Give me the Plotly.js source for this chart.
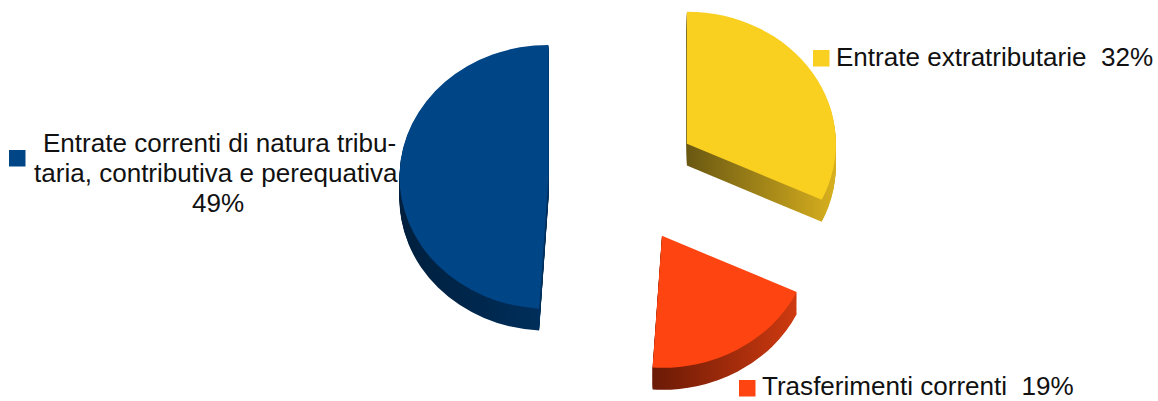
<!DOCTYPE html>
<html><head><meta charset="utf-8">
<script src="https://cdn.plot.ly/plotly-3.0.1.min.js"></script>
<style>html,body{margin:0;padding:0;background:#fff;overflow:hidden}</style>
</head><body><div id="chart" style="width:1158px;height:401px"></div>
<script>
const categories = ["Entrate extratributarie", "Trasferimenti correnti", "Entrate correnti di natura tributaria, contributiva e perequativa"];
const shares = [32, 19, 49];
const topColors = ["#F9CF20", "#FD4411", "#004586"];
const pulls = [0.5, 0.5, 0.507];
const depthLayers = 21;
const W = 1158, H = 401;
const R = 190;
const traces = [];
function pieTrace(shift, colors){
  return {type:"pie", values:shares, labels:categories, sort:false, direction:"clockwise", rotation:0,
    pull:pulls, textinfo:"none", hoverinfo:"skip", showlegend:false,
    marker:{colors:colors, line:{width:0}},
    domain:{x:[0,1], y:[Math.max(0,(H-shift-2*R)/H), (H-shift)/H]}};
}
for(let k=depthLayers;k>=1;k--) traces.push(pieTrace(k, ["#8a7414","#8f2a0c","#00264a"]));
traces.push(pieTrace(0, topColors));
const font = {family:"Liberation Sans", size:26.05, color:"#111111"};
function note(x,y,text,anchor){return {xref:"paper",yref:"paper",x:x/W,y:1-y/H,text:text,showarrow:false,xanchor:anchor,yanchor:"middle",font:font,borderpad:0};}
function sq(x,y,s,c){return {type:"rect",xref:"paper",yref:"paper",x0:x/W,x1:(x+s)/W,y0:1-y/H,y1:1-(y+s)/H,fillcolor:c,line:{width:0}};}
const layout = {width:W,height:H,margin:{l:0,r:0,t:0,b:0},paper_bgcolor:"#fff",
  annotations:[
    note(835,57,"Entrate extratributarie  32%","left"),
    note(761,386,"Trasferimenti correnti  19%","left"),
    note(219,142.5,"Entrate correnti di natura tribu-","center"),
    note(216,172.5,"taria, contributiva e perequativa","center"),
    note(218,202.5,"49%","center")
  ],
  shapes:[sq(813,50,16.5,topColors[0]),sq(739,380,16.5,topColors[1]),sq(9,150,16.5,topColors[2])]
};
Plotly.newPlot("chart",traces,layout,{displayModeBar:false,staticPlot:true}).then(()=>{
  const svg=document.querySelector("#chart .main-svg");
  const ns="http://www.w3.org/2000/svg";
  const defs=svg.querySelector("defs")||svg.appendChild(document.createElementNS(ns,"defs"));
  const grads=[["gy","#6a5812","#d8b01e"],["go","#6a1a06","#cf3a10"],["gb","#001f3d","#002f5c"]];
  grads.forEach(g=>{
    const lg=document.createElementNS(ns,"linearGradient");lg.setAttribute("id",g[0]);
    [[0,g[1]],[1,g[2]]].forEach(s=>{const st=document.createElementNS(ns,"stop");st.setAttribute("offset",s[0]);st.setAttribute("stop-color",s[1]);lg.appendChild(st);});
    defs.appendChild(lg);
  });
  const pl=svg.querySelector(".pielayer");
  const groups=pl.querySelectorAll(".trace");
  groups.forEach((t,i)=>{ if(i<groups.length-1){ t.querySelectorAll(".slice path").forEach((p,j)=>{p.style.fill="url(#"+grads[j][0]+")";}); } });
  const r=R/(1+Math.max(...pulls)), sx=149/r, sy=132/r;
  const cxPie=W/2, cyPie=R, cxT=624, cyT=179;
  pl.setAttribute("transform",`translate(${cxT},${cyT}) scale(${sx},${sy}) translate(${-cxPie},${-cyPie})`);
});
</script></body></html>
